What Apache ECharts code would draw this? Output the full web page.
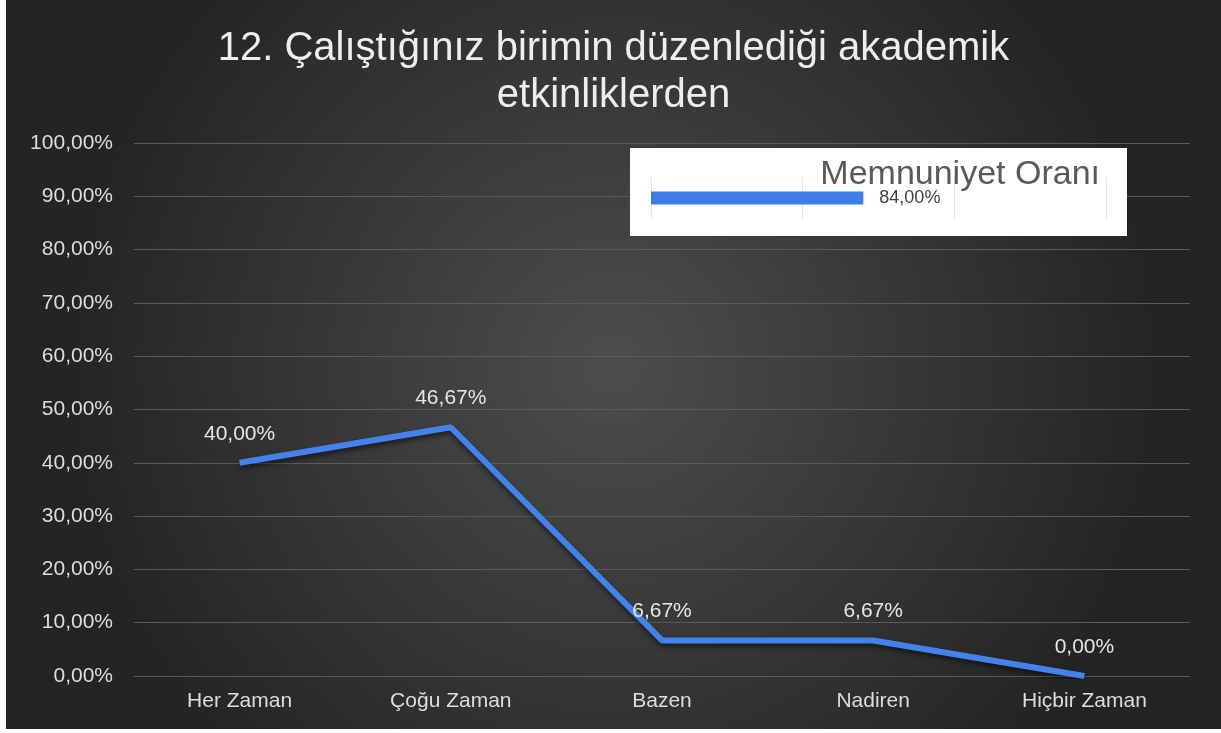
<!DOCTYPE html>
<html>
<head>
<meta charset="utf-8">
<script src="https://cdn.jsdelivr.net/npm/echarts@6/dist/echarts.min.js"></script>
<style>
  html, body { margin: 0; padding: 0; background: #ffffff; }
  #chart { position: absolute; left: 6px; top: 0; width: 1215px; height: 729px; }
</style>
</head>
<body>
<div id="chart"></div>
<script>
var categories = ['Her Zaman', 'Çoğu Zaman', 'Bazen', 'Nadiren', 'Hiçbir Zaman'];
var values = [40.00, 46.67, 6.67, 6.67, 0.00];
var summaryName = ['Memnuniyet Oranı'];
var summaryValue = [84.00];

function pct(v) {
  return v.toFixed(2).replace('.', ',') + '%';
}

var chart = echarts.init(document.getElementById('chart'));
var font = 'Liberation Sans, Arial, sans-serif';

var option = {
  backgroundColor: {
    type: 'radial', x: 0.5, y: 0.5, r: 0.75,
    colorStops: [
      { offset: 0, color: '#4d4d4d' },
      { offset: 1, color: '#242424' }
    ]
  },
  title: {
    text: '12. Çalıştığınız birimin düzenlediği akademik\netkinliklerden',
    left: 'center',
    top: 20,
    textStyle: {
      color: '#eeeeee', fontFamily: font, fontSize: 40,
      fontWeight: 'normal', lineHeight: 47, align: 'center'
    }
  },
  graphic: [{
    type: 'rect', z: 1,
    shape: { x: 624, y: 148, width: 497, height: 88 },
    style: { fill: '#ffffff' }
  }, {
    type: 'text', z: 10,
    style: {
      x: 1094, y: 158, text: summaryName[0], align: 'right',
      fill: '#595959', font: '34px ' + font
    }
  }],
  grid: [
    { left: 128, right: 31, top: 143, bottom: 53 },
    { left: 645, width: 455, top: 177, height: 42 }
  ],
  xAxis: [{
    type: 'category', gridIndex: 0, data: categories,
    axisLine: { show: false }, axisTick: { show: false },
    axisLabel: { color: '#dddddd', fontFamily: font, fontSize: 21, margin: 15 }
  }, {
    type: 'value', gridIndex: 1, min: 0, max: 180, interval: 60, z: 3,
    axisLine: { show: false }, axisTick: { show: false }, axisLabel: { show: false },
    splitLine: { lineStyle: { color: '#e6e6e6', width: 1 } }
  }],
  yAxis: [{
    type: 'value', gridIndex: 0, min: 0, max: 100, interval: 10,
    axisLine: { show: false }, axisTick: { show: false },
    axisLabel: {
      color: '#dddddd', fontFamily: font, fontSize: 21, margin: 21,
      formatter: function (v) { return pct(v); }
    },
    splitLine: { lineStyle: { color: '#5a5a5a', width: 1 } }
  }, {
    type: 'category', gridIndex: 1, data: summaryName, z: 3,
    axisLine: { show: false }, axisTick: { show: false }, axisLabel: { show: false }
  }],
  series: [{
    type: 'line', xAxisIndex: 0, yAxisIndex: 0,
    data: values,
    symbol: 'circle', symbolSize: 1, showSymbol: true,
    itemStyle: { color: 'rgba(0,0,0,0)' },
    lineStyle: {
      color: '#4382ec', width: 6,
      shadowColor: 'rgba(0,0,0,0.55)', shadowBlur: 5, shadowOffsetY: 3
    },
    label: {
      show: true, position: 'top', distance: 18,
      color: '#e6e6e6', fontFamily: font, fontSize: 21,
      formatter: function (p) { return pct(p.value); }
    },
    emphasis: { disabled: true }
  }, {
    type: 'bar', xAxisIndex: 1, yAxisIndex: 1,
    data: summaryValue, barWidth: 13, z: 5,
    itemStyle: { color: '#3c7ceb' },
    label: {
      show: true, position: 'right', distance: 16,
      color: '#404040', fontFamily: font, fontSize: 18,
      formatter: function (p) { return pct(p.value); }
    }
  }]
};

chart.setOption(option);
</script>
</body>
</html>
